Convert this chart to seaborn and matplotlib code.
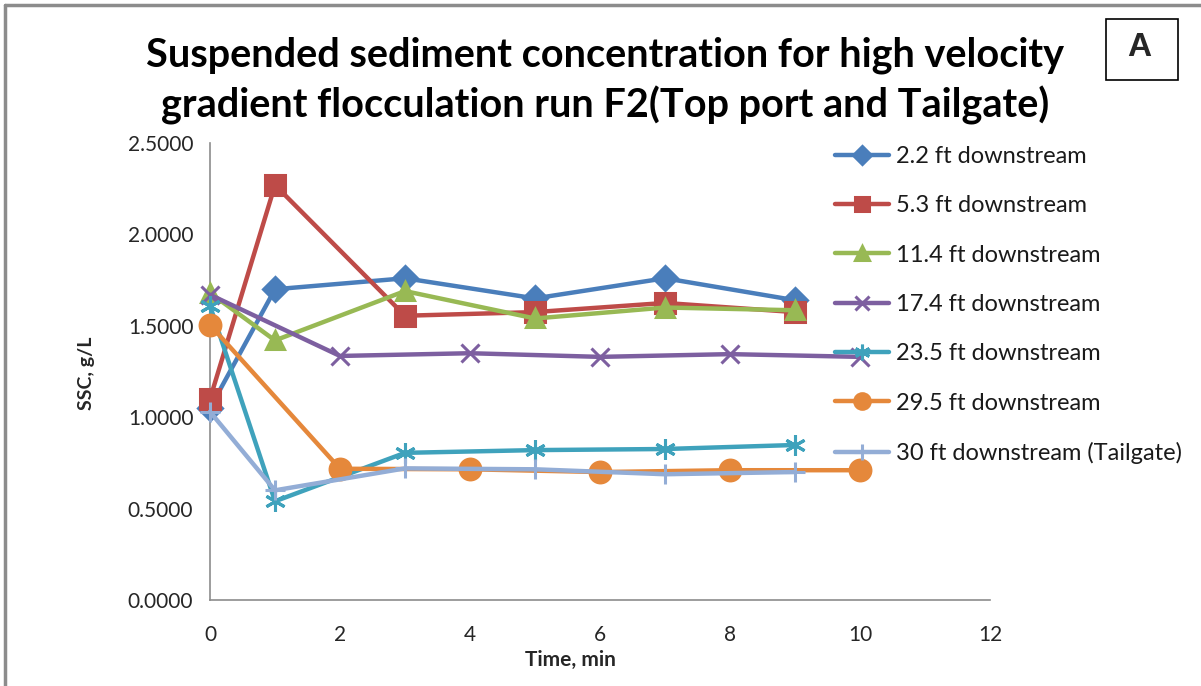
import matplotlib
matplotlib.use("Agg")
import matplotlib.pyplot as plt
from matplotlib.lines import Line2D
from matplotlib.patches import Rectangle
import seaborn as sns
import pandas as pd

# Sampling times (min) for the two port groups
times_odd = [0, 1, 3, 5, 7, 9]
times_even = [0, 2, 4, 6, 8, 10]

# Suspended sediment concentration, g/L
ssc_2_2 = [1.05, 1.70, 1.76, 1.65, 1.76, 1.64]
ssc_5_3 = [1.10, 2.27, 1.555, 1.575, 1.625, 1.575]
ssc_11_4 = [1.68, 1.42, 1.69, 1.54, 1.60, 1.585]
ssc_17_4 = [1.67, 1.335, 1.35, 1.33, 1.345, 1.33]
ssc_23_5 = [1.61, 0.54, 0.805, 0.82, 0.826, 0.848]
ssc_29_5 = [1.505, 0.718, 0.715, 0.70, 0.71, 0.71]
ssc_30 = [1.03, 0.60, 0.72, 0.715, 0.688, 0.70]

labels = ["2.2 ft downstream", "5.3 ft downstream", "11.4 ft downstream",
          "17.4 ft downstream", "23.5 ft downstream", "29.5 ft downstream",
          "30 ft downstream (Tailgate)"]
x_values = [times_odd, times_odd, times_odd, times_even, times_odd, times_even, times_odd]
y_values = [ssc_2_2, ssc_5_3, ssc_11_4, ssc_17_4, ssc_23_5, ssc_29_5, ssc_30]

colors = ["#4A7EBB", "#BE4B48", "#98B954", "#7D5FA0", "#3FA2BC", "#E5883B", "#93ADD6"]
markers = ["D", "s", "^", "x", (6, 2, 0), "o", "+"]
msizes = [12, 14, 13, 13, 15, 15, 15]

sns.set_style("white")
plt.rcParams["font.family"] = ["Lato", "DejaVu Sans"]

fig = plt.figure(figsize=(12.01, 6.86), dpi=100)
W, H = 1201, 686
ax = fig.add_axes([210 / W, 1 - 600 / H, 780 / W, 457 / H])

for xs, ys, lab, c, m, ms in zip(x_values, y_values, labels, colors, markers, msizes):
    df = pd.DataFrame({"Time": xs, "SSC": ys})
    sns.lineplot(data=df, x="Time", y="SSC", ax=ax, color=c, linewidth=3.2,
                 marker=m, markersize=ms, markeredgecolor=c, markeredgewidth=2.2,
                 label=lab, clip_on=False, zorder=3)

ax.set_xlim(0, 12)
ax.set_ylim(0, 2.5)
ax.set_xticks(range(0, 13, 2))
ax.set_yticks([0, 0.5, 1.0, 1.5, 2.0, 2.5])
ax.set_yticklabels([f"{v:.4f}" for v in [0, 0.5, 1.0, 1.5, 2.0, 2.5]])

for side in ["top", "right"]:
    ax.spines[side].set_visible(False)
for side in ["left", "bottom"]:
    ax.spines[side].set_color("#8C8C8C")
    ax.spines[side].set_linewidth(1.2)
ax.tick_params(axis="both", direction="out", length=6, width=1.2, color="#8C8C8C",
               labelsize=15, labelcolor="#262626", pad=6)
ax.tick_params(axis="x", pad=12)

ax.set_xlabel("Time, min", fontsize=15, fontweight="bold")
ax.set_ylabel("SSC, g/L", fontsize=14, fontweight="bold")
ax.xaxis.set_label_coords((570 - 210) / 780, (600 - 660) / 457)
ax.xaxis.label.set_va("center")
ax.yaxis.set_label_coords((87 - 210) / 780, (600 - 373) / 457)
ax.yaxis.label.set_va("center")

fig.text(605 / W, 1 - 81 / H,
         "Suspended sediment concentration for high velocity\n"
         "gradient flocculation run F2(Top port and Tailgate)",
         ha="center", va="center", fontsize=28.5, fontweight="bold",
         linespacing=1.36, color="black")

leg = ax.legend(loc="upper left", bbox_to_anchor=(835 / W, 1 - 146 / H),
                bbox_transform=fig.transFigure, frameon=False, fontsize=17,
                handlelength=2.3, handletextpad=0.3, labelspacing=1.2,
                markerscale=0.75, borderaxespad=0, borderpad=0)
for t in leg.get_texts():
    t.set_color("#1A1A1A")

# Panel tag box
fig.patches.append(Rectangle((1106 / W, 1 - 80 / H), 72 / W, 61 / H,
                             transform=fig.transFigure, fill=False,
                             edgecolor="black", linewidth=1.2))
fig.text(1139 / W, 1 - 47 / H, "A", ha="center", va="center",
         fontsize=24, fontweight="bold", family=["Liberation Sans", "DejaVu Sans"])

# Outer frame (top and left edges)
fig.add_artist(Line2D([5 / W, 1], [1 - 5 / H, 1 - 5 / H], transform=fig.transFigure,
                      color="#8C8C8C", linewidth=2.5))
fig.add_artist(Line2D([5 / W, 5 / W], [0, 1 - 5 / H], transform=fig.transFigure,
                      color="#8C8C8C", linewidth=2.5))

fig.savefig("out.png", dpi=100)
